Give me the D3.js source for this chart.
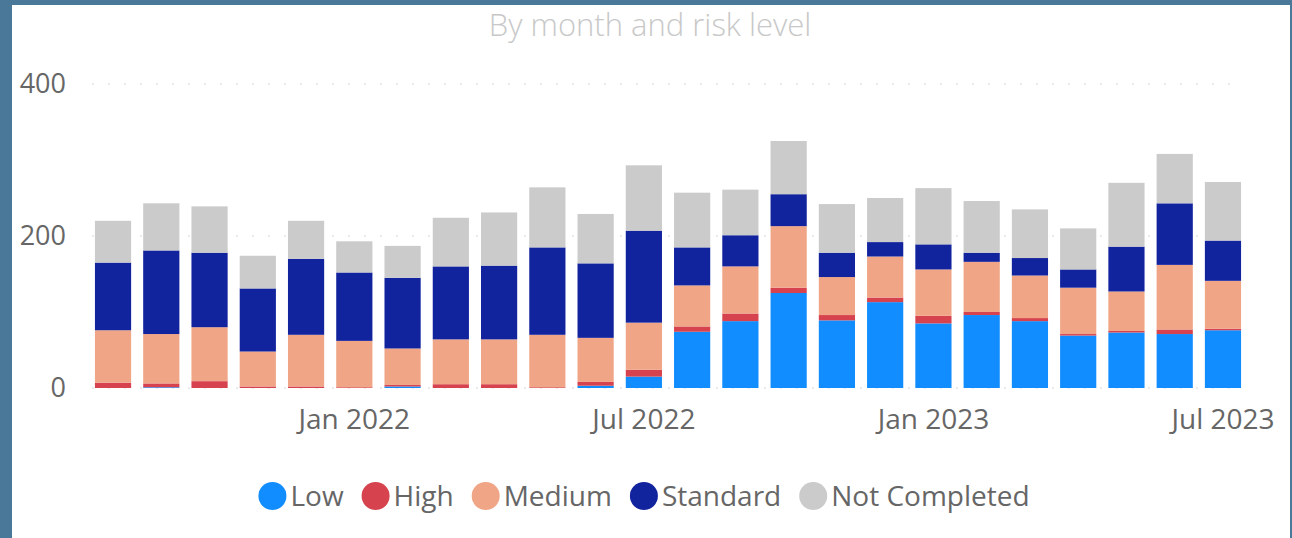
<!DOCTYPE html>
<html>
<head>
<meta charset="utf-8">
<script src="https://cdn.jsdelivr.net/npm/d3@7"></script>
<style>
  html, body { margin: 0; padding: 0; background: #4a7898; }
  svg { display: block; }
  text { font-family: "Segoe UI", "Open Sans", sans-serif; }
</style>
</head>
<body>
<svg id="chart"></svg>
<script>
// months Aug 2021 .. Jul 2023
var months = ["2021-08", "2021-09", "2021-10", "2021-11", "2021-12", "2022-01",
              "2022-02", "2022-03", "2022-04", "2022-05", "2022-06", "2022-07",
              "2022-08", "2022-09", "2022-10", "2022-11", "2022-12", "2023-01",
              "2023-02", "2023-03", "2023-04", "2023-05", "2023-06", "2023-07"];

var low          = [0, 1, 0, 0, 0, 0, 2, 0, 0, 0, 3, 15, 74, 88, 125, 89, 113, 85, 96, 88, 69, 73, 71, 76];
var high         = [7, 5, 9, 2, 2, 1, 2, 5, 5, 1, 5, 9, 7, 10, 7, 7, 6, 10, 4, 4, 2, 2, 6, 2];
var medium       = [69, 65, 71, 46, 68, 61, 48, 59, 59, 69, 58, 62, 54, 62, 81, 50, 54, 61, 66, 56, 61, 52, 85, 63];
var standard     = [89, 110, 98, 83, 100, 90, 93, 96, 97, 115, 98, 121, 50, 41, 42, 32, 19, 33, 12, 23, 24, 59, 81, 53];
var notCompleted = [55, 62, 61, 43, 50, 41, 42, 64, 70, 79, 65, 86, 72, 60, 70, 64, 58, 74, 68, 64, 54, 84, 65, 77];

var seriesNames  = ["Low", "High", "Medium", "Standard", "Not Completed"];
var seriesColors = ["#118dff", "#d6434f", "#f0a586", "#12239e", "#cbcbcb"];
var yTicks = [0, 200, 400];
var xTickMonths = ["2022-01", "2022-07", "2023-01", "2023-07"];

var width = 1292, height = 538;

var svg = d3.select('#chart')
    .attr('width', width)
    .attr('height', height);

// white card inside the border
svg.append('rect')
    .attr('x', 12).attr('y', 5)
    .attr('width', 1278).attr('height', height - 5)
    .attr('fill', '#ffffff');

// title
svg.append('text')
    .attr('x', 650).attr('y', 36)
    .attr('text-anchor', 'middle')
    .attr('font-size', 31)
    .attr('font-weight', 300)
    .attr('fill', '#c8c8c8')
    .text('By month and risk level');

var rows = months.map(function(m, i) {
    return {month: m, Low: low[i], High: high[i], Medium: medium[i],
            Standard: standard[i], "Not Completed": notCompleted[i]};
});

var x = d3.scaleBand()
    .domain(months)
    .range([88.9, 1247.1])
    .paddingInner(0.25)
    .paddingOuter(0.125);

var y = d3.scaleLinear()
    .domain([0, 400])
    .range([388, 84]);

var color = d3.scaleOrdinal().domain(seriesNames).range(seriesColors);

// gridlines
svg.append('g').selectAll('line')
    .data(yTicks)
    .enter().append('line')
    .attr('x1', 92).attr('x2', 1240)
    .attr('y1', function(d) { return y(d); })
    .attr('y2', function(d) { return y(d); })
    .attr('stroke', '#e4e4e4')
    .attr('stroke-width', 1.5)
    .attr('stroke-dasharray', '2,14');

// y axis labels
var yAxis = d3.axisLeft(y).tickValues(yTicks).tickSize(0).tickPadding(0);
var gy = svg.append('g')
    .attr('transform', 'translate(66,0)')
    .call(yAxis);
gy.select('.domain').remove();
gy.selectAll('text')
    .attr('font-size', 27)
    .attr('fill', '#666666')
    .style('font-family', '"Segoe UI", "Open Sans", sans-serif');

// stacked bars
var stack = d3.stack().keys(seriesNames);
var layers = stack(rows);

svg.append('g').selectAll('g')
    .data(layers)
    .enter().append('g')
    .attr('fill', function(d) { return color(d.key); })
    .selectAll('rect')
    .data(function(d) { return d; })
    .enter().append('rect')
    .attr('x', function(d) { return x(d.data.month); })
    .attr('width', x.bandwidth())
    .attr('y', function(d) { return y(d[1]); })
    .attr('height', function(d) { return y(d[0]) - y(d[1]); });

// x axis labels
var parse = d3.timeParse('%Y-%m');
var fmt = d3.timeFormat('%b %Y');
var xAxis = d3.axisBottom(x)
    .tickValues(xTickMonths)
    .tickSize(0)
    .tickPadding(0)
    .tickFormat(function(d) { return fmt(parse(d)); });
var gx = svg.append('g')
    .attr('transform', 'translate(0,409)')
    .call(xAxis);
gx.select('.domain').remove();
gx.selectAll('text')
    .attr('dy', '0.71em')
    .attr('font-size', 28)
    .attr('fill', '#666666')
    .style('font-family', '"Segoe UI", "Open Sans", sans-serif');

// legend
var legend = svg.append('g').attr('transform', 'translate(0,496)');
var cursor = 0;
var items = legend.selectAll('g')
    .data(seriesNames)
    .enter().append('g');
items.append('circle')
    .attr('r', 14)
    .attr('fill', function(d) { return color(d); });
items.append('text')
    .attr('x', 18)
    .attr('dy', '0.35em')
    .attr('font-size', 28)
    .attr('fill', '#666666')
    .text(function(d) { return d; });
items.each(function() {
    var g = d3.select(this);
    var w = g.select('text').node().getComputedTextLength();
    g.attr('transform', 'translate(' + (cursor + 14) + ',0)');
    cursor += 28 + 4 + w + 18;
});
var total = cursor - 18;
legend.attr('transform', 'translate(' + (644 - total / 2) + ',496)');
</script>
</body>
</html>
